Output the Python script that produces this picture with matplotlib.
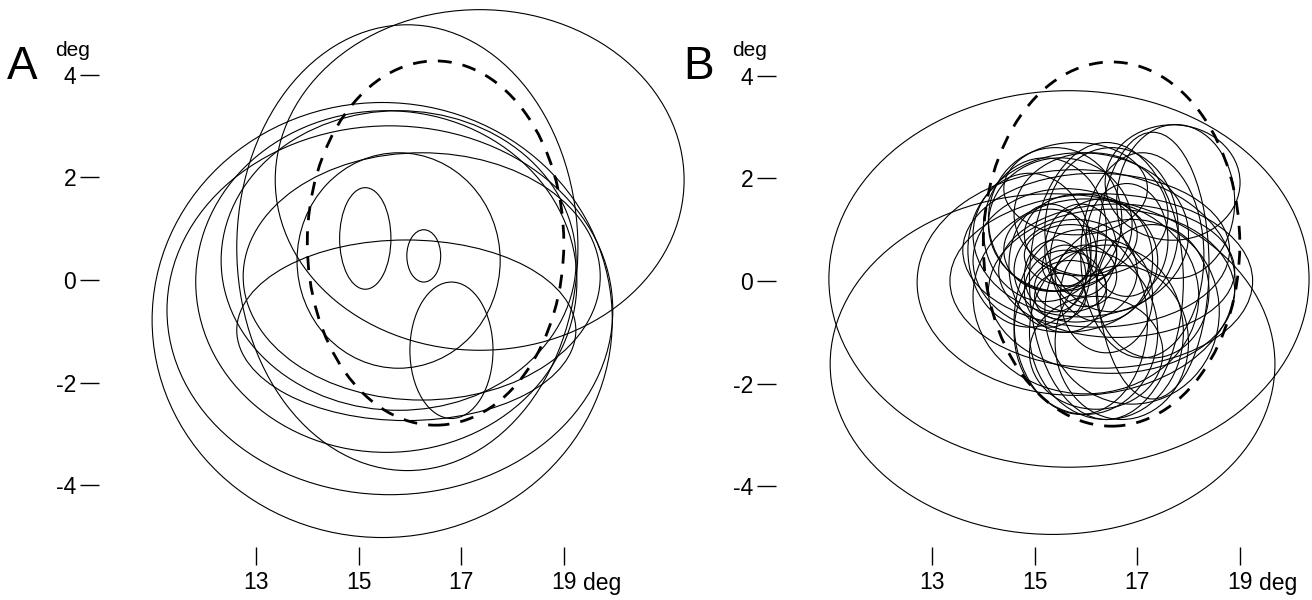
import matplotlib.pyplot as plt
from matplotlib.patches import Ellipse

plt.rcParams['font.family'] = ['Liberation Sans', 'DejaVu Sans']

# tick values (deg)
xticks = [13, 15, 17, 19]
yticks = [-4, -2, 0, 2, 4]
xtick_labels = ['13', '15', '17', '19']
ytick_labels = ['-4', '-2', '0', '2', '4']

# dashed outline, (x centre, y centre, width, height) in deg
outline = (16.5, 0.72, 5.0, 7.1)

# panel A receptive fields
a_x = [17.36, 15.95, 15.46, 15.61, 15.54, 15.78, 16.23, 15.78, 15.93, 15.13, 16.27, 16.81]
a_y = [1.95, 0.63, -0.78, -0.59, -0.03, 0.38, 0.07, 0.38, -0.98, 0.81, 0.47, -1.37]
a_w = [7.97, 6.65, 8.97, 8.69, 7.43, 6.92, 6.96, 3.96, 6.61, 1.00, 0.66, 1.62]
a_h = [6.64, 8.69, 8.48, 7.19, 6.66, 5.84, 4.82, 4.20, 3.52, 1.98, 1.02, 2.66]

# panel B receptive fields
b_x = [15.67, 15.35, 15.81, 17.69, 17.75, 16.30, 16.20, 15.90, 16.00, 16.60,
       15.60, 16.90, 16.40, 15.90, 17.10, 16.50, 15.50, 16.10, 15.80, 16.30,
       15.60, 15.90, 16.00, 15.50, 15.70, 16.40, 16.80, 15.30, 17.30, 16.20,
       16.40, 17.30, 15.40, 15.60, 15.70, 15.30, 15.90, 15.20, 15.40, 14.90,
       16.00, 16.70, 16.50, 15.80]
b_y = [0.04, -1.62, -0.03, 1.92, 1.55, 0.00, 0.60, 0.90, -0.30, 0.20,
       0.40, -0.60, -1.00, -0.80, 0.50, 1.00, 1.10, 1.30, 0.20, 0.40,
       -0.20, 0.60, 0.10, -0.30, 0.50, -0.30, 0.80, 0.30, -0.20, -1.40,
       0.00, 0.30, 0.10, 0.30, -0.10, 0.60, 0.90, 1.00, 1.20, 0.60,
       -1.00, -1.20, -0.20, 1.80]
b_w = [9.36, 8.67, 6.20, 2.63, 2.30, 5.90, 5.20, 4.20, 4.40, 4.60,
       3.60, 3.40, 3.00, 2.60, 2.40, 2.60, 2.80, 3.00, 2.40, 2.00,
       1.60, 1.40, 1.20, 1.00, 1.80, 1.80, 1.60, 1.60, 2.20, 2.60,
       3.00, 2.20, 1.20, 0.90, 1.40, 1.80, 2.20, 2.40, 2.60, 2.40,
       2.80, 2.60, 4.80, 2.80]
b_h = [7.34, 6.64, 4.40, 2.25, 3.00, 3.40, 3.00, 3.20, 3.80, 2.60,
       2.80, 3.60, 3.40, 3.60, 4.00, 3.20, 2.60, 2.40, 2.00, 2.40,
       1.60, 1.80, 1.20, 0.90, 1.20, 2.20, 2.20, 2.40, 2.60, 2.20,
       5.40, 5.20, 1.40, 0.80, 1.00, 1.60, 1.60, 2.80, 2.80, 3.00,
       3.20, 3.00, 3.20, 1.80]

W, H = 1312, 600
PX = 51.3  # pixels per deg


def panel(fig, left, right, x13, y0, xs, ys, ws, hs, letter):
    """
    One panel: ellipses, dashed outline and the floating tick marks
    """
    top, bottom = 0, 547
    ax = fig.add_axes([left / W, 1 - bottom / H, (right - left) / W, (bottom - top) / H])
    ax.set_xlim(13 - (x13 - left) / PX, 13 + (right - x13) / PX)
    ax.set_ylim(-(bottom - y0) / PX, (y0 - top) / PX)

    for x, y, w, h in zip(xs, ys, ws, hs):
        ax.add_patch(Ellipse((x, y), w, h, fill=False, ec='black', lw=0.8, clip_on=False))
    cx, cy, cw, ch = outline
    ax.add_patch(Ellipse((cx, cy), cw, ch, fill=False, ec='black', lw=2.0,
                         ls=(0, (5, 4)), clip_on=False))

    for s in ax.spines.values():
        s.set_visible(False)
    ax.set_facecolor('none')
    ax.set_xticks(xticks)
    ax.set_xticklabels(xtick_labels)
    ax.set_yticks(yticks)
    ax.set_yticklabels(ytick_labels)
    ax.tick_params(axis='x', direction='out', length=13, width=1.0, pad=4, labelsize=16.5)
    ax.tick_params(axis='y', direction='out', length=13.5, width=1.0, pad=3, labelsize=16.5)

    ax.annotate('deg', xy=(19, 0), xycoords=('data', 'axes fraction'), xytext=(14, -31),
                textcoords='offset points', ha='left', va='baseline', fontsize=16.5)
    fig.text((left - 26) / W, 1 - 50 / H, 'deg', ha='center', va='center', fontsize=15)
    fig.text((left - 77) / W, 1 - 67 / H, letter, ha='center', va='center', fontsize=33)
    return ax


fig = plt.figure(figsize=(W / 100, H / 100), dpi=100)
panel(fig, 99, 690, 256, 280, a_x, a_y, a_w, a_h, 'A')
panel(fig, 776, 1312, 932, 281, b_x, b_y, b_w, b_h, 'B')
fig.savefig('out.png', dpi=100)
